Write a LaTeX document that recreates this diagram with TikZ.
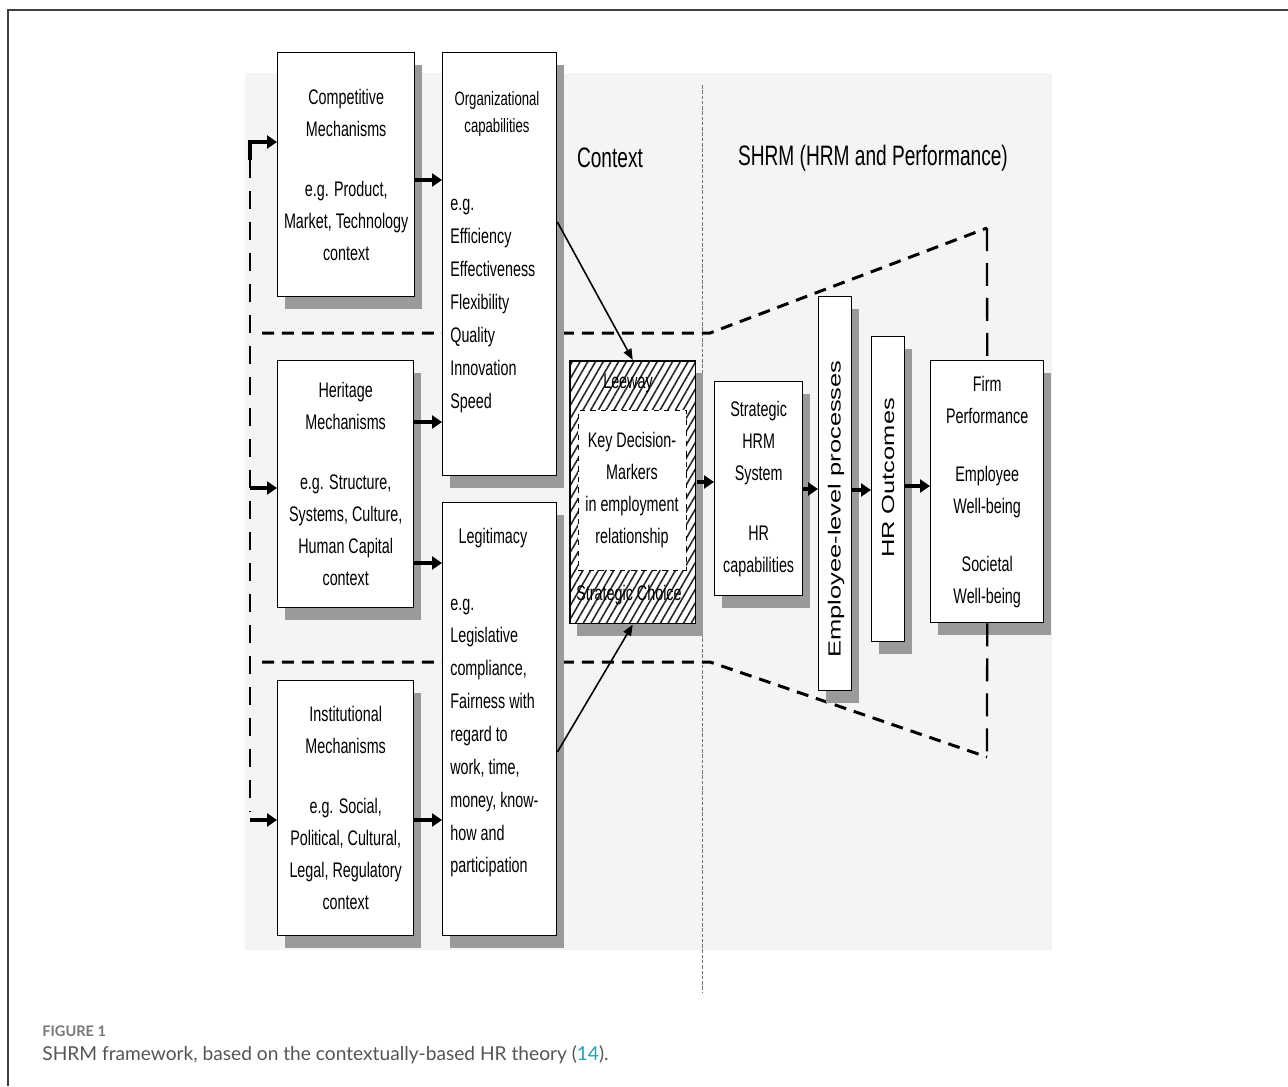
\documentclass[tikz,border=0pt]{standalone}
\usepackage{fontspec}
\setmainfont[FakeStretch=0.68]{Liberation Sans}
\newfontfamily\widefont[FakeStretch=1.45]{Liberation Sans}
\newfontfamily\capfont{Lato}
\usetikzlibrary{arrows.meta, shadows, patterns.meta}

\definecolor{shade}{HTML}{9A9A9A}
\definecolor{paper}{HTML}{F4F4F4}
\definecolor{capgray}{HTML}{555555}
\definecolor{figgray}{HTML}{777777}
\definecolor{reflink}{HTML}{22A0C0}
\newcommand\bsize{\fontsize{12}{18.2}\selectfont}
\newcommand\lsize{\fontsize{12}{18.7}\selectfont}

\begin{document}
\begin{tikzpicture}[x=0.02cm, y=-0.02cm,
    shadowed/.style={drop shadow={shadow xshift=0.14cm, shadow yshift=-0.24cm,
        fill=shade, opacity=1}},
    box/.style={shadowed, draw, line width=0.8pt, fill=white, inner sep=0pt,
        align=center, font=\bsize},
    hatch/.style={shadowed, draw, line width=0.8pt, preaction={fill=white},
        pattern={Lines[angle=60, distance=3.8pt, line width=0.9pt]},
        pattern color=black!85},
    keybox/.style={draw, dashed, line width=0.5pt, fill=white, inner sep=0pt,
        align=center, font=\bsize},
    txt/.style={inner sep=0pt, align=left, font=\bsize},
    rot/.style={rotate=90, inner sep=0pt, font=\widefont\fontsize{10}{12}\selectfont},
    fat/.style={line width=1.8pt, -{Triangle[length=0.2cm, width=0.26cm]}},
    slant/.style={line width=0.9pt, -{Triangle[length=0.22cm, width=0.17cm]}},
    bound/.style={line width=1.7pt, dash pattern=on 0.24cm off 0.16cm},
    lside/.style={line width=1.1pt, dash pattern=on 0.36cm off 0.26cm},
    rside/.style={line width=1.3pt, dash pattern=on 0.46cm off 0.24cm},
    sep/.style={black!55, line width=0.4pt, dash pattern=on 2pt off 1pt}]

  \useasboundingbox (0,0) rectangle (1288,1086);
  \draw[black!75, line width=0.8pt] (1288,10) -- (8,10) -- (8,1086);
  \fill[paper] (245,73) rectangle (1052,950);
  \draw[sep] (702,85) -- (702,993);

  % headings
  \node[font=\fontsize{16}{19}\selectfont] (ctx) at (610,158) {Context};
  \node[font=\fontsize{16}{19}\selectfont] (shrmt) at (873,158) {SHRM (HRM and Performance)};

  % boundaries of the funnel
  \coordinate (tl) at (262,333);
  \coordinate (tm) at (710,333);
  \coordinate (tr) at (987,228);
  \coordinate (bl) at (262,662);
  \coordinate (bm) at (710,662);
  \coordinate (br) at (987,757);
  \draw[bound] (tl) -- (tm) -- (tr);
  \draw[bound] (bl) -- (bm) -- (br);

  % context column
  \node[box, anchor=north west, minimum width=2.74cm, minimum height=4.88cm]
    (comp) at (277,52) {Competitive\\Mechanisms\\[0.56cm]e.g. Product,\\Market, Technology\\context};
  \node[box, anchor=north west, minimum width=2.72cm, minimum height=4.94cm]
    (her) at (277,360) {Heritage\\Mechanisms\\[0.56cm]e.g. Structure,\\Systems, Culture,\\Human Capital\\context};
  \node[box, anchor=north west, minimum width=2.72cm, minimum height=5.10cm]
    (inst) at (277,680) {Institutional\\Mechanisms\\[0.56cm]e.g. Social,\\Political, Cultural,\\Legal, Regulatory\\context};

  \node[box, anchor=north west, minimum width=2.28cm, minimum height=8.46cm]
    (org) at (442,52) {};
  \node[txt, align=center, font=\fontsize{11}{15.9}\selectfont]
    (orgt) at (497,114) {Organizational\\capabilities};
  \node[txt, anchor=west, font=\lsize] (orgl) at (450,306)
    {e.g.\\Efficiency\\Effectiveness\\Flexibility\\Quality\\Innovation\\Speed};

  \node[box, anchor=north west, minimum width=2.28cm, minimum height=8.66cm]
    (legit) at (442,502) {};
  \node[txt] (legt) at (493,538) {Legitimacy};
  \node[txt, anchor=west, font=\lsize] (legl) at (450,738)
    {e.g.\\Legislative\\compliance,\\Fairness with\\regard to\\work, time,\\money, know-\\how and\\participation};

  % leeway
  \node[hatch, anchor=north west, minimum width=2.52cm, minimum height=5.26cm]
    (leeway) at (569,360) {};
  \node[keybox, minimum width=2.16cm, minimum height=3.2cm]
    (key) at (632,490) {Key Decision-\\Markers\\in employment\\relationship};
  \node[txt] (lw) at (628,383) {Leeway};
  \node[txt] (sc) at (629,595) {Strategic Choice};

  % SHRM column
  \node[box, anchor=north west, minimum width=1.76cm, minimum height=4.28cm]
    (shrm) at (714,381) {Strategic\\HRM\\System\\[0.56cm]HR\\capabilities};
  \node[box, anchor=north west, minimum width=0.66cm, minimum height=7.88cm]
    (emp) at (818,296) {};
  \node[rot] (empt) at (836,509) {Employee-level processes};
  \node[box, anchor=north west, minimum width=0.66cm, minimum height=6.10cm]
    (hro) at (871,336) {};
  \node[rot] (hrot) at (888,478) {HR Outcomes};
  \node[box, anchor=north west, minimum width=2.26cm, minimum height=5.24cm]
    (firm) at (930,360) {Firm\\Performance\\[0.52cm]Employee\\Well-being\\[0.52cm]Societal\\Well-being};

  \draw[rside] (tr) -- (firm.north);
  \draw[rside] (firm.south) -- (br);

  % feedback on the left
  \coordinate (a0) at (250,160);
  \coordinate (a1) at (250,142);
  \coordinate (a2) at (250,488);
  \coordinate (a3) at (250,820);
  \draw[lside] (a0) -- (250,812);
  \draw[fat] (a0) |- (comp.west |- a1);
  \draw[fat] (a2) -- (her.west |- a2);
  \draw[fat] (a3) -- (inst.west |- a3);

  % arrows
  \coordinate (c1) at (414,180);
  \coordinate (c2) at (414,422);
  \coordinate (c3) at (414,563);
  \coordinate (c4) at (414,820);
  \draw[fat] (comp.east |- c1) -- (org.west |- c1);
  \draw[fat] (her.east |- c2) -- (org.west |- c2);
  \draw[fat] (her.east |- c3) -- (legit.west |- c3);
  \draw[fat] (inst.east |- c4) -- (legit.west |- c4);

  \coordinate (d1) at (556,222);
  \coordinate (d2) at (556,752);
  \draw[slant] (org.east |- d1) -- (leeway.north);
  \draw[slant] (legit.east |- d2) -- (leeway.south);

  \coordinate (e1) at (700,482);
  \coordinate (e2) at (800,489);
  \coordinate (e3) at (850,490);
  \coordinate (e4) at (900,486);
  \draw[fat] (leeway.east |- e1) -- (shrm.west |- e1);
  \draw[fat] (shrm.east |- e2) -- (emp.west |- e2);
  \draw[fat] (emp.east |- e3) -- (hro.west |- e3);
  \draw[fat] (hro.east |- e4) -- (firm.west |- e4);

  % caption
  \node[anchor=base west, inner sep=0pt, text=figgray,
    font=\capfont\bfseries\fontsize{8.3}{10}\selectfont] (fig) at (42,1036) {FIGURE 1};
  \node[anchor=base west, inner sep=0pt, text=capgray,
    font=\capfont\fontsize{10.9}{13}\selectfont] (cap) at (42,1060)
    {SHRM framework, based on the contextually-based HR theory (\textcolor{reflink}{14}).};
\end{tikzpicture}
\end{document}
